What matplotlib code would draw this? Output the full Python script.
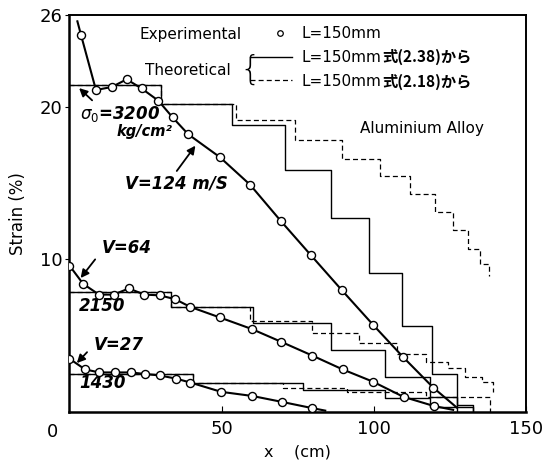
import matplotlib.pyplot as plt

plt.rcParams['font.family'] = ['DejaVu Sans', 'Noto Sans CJK JP']

# measured strain along the bar, L=150mm
x_124 = [3.8, 8.7, 13.9, 18.8, 23.7, 29.2, 33.9, 39.0, 49.4, 59.3, 69.5, 79.2, 89.4, 99.8, 109.6, 119.5]
y_124 = [24.7, 21.1, 21.3, 21.8, 21.2, 20.4, 19.3, 18.2, 16.7, 14.9, 12.5, 10.3, 8.0, 5.7, 3.6, 1.6]
x_64 = [0, 4.5, 9.7, 14.5, 19.5, 24.6, 29.6, 34.7, 39.6, 49.4, 59.8, 69.6, 79.8, 89.7, 99.6, 109.7, 119.7]
y_64 = [9.6, 8.4, 7.7, 7.7, 8.1, 7.7, 7.65, 7.4, 6.9, 6.2, 5.45, 4.6, 3.7, 2.8, 2.0, 1.0, 0.4]
x_27 = [0, 5.1, 9.8, 14.8, 20.1, 24.8, 29.7, 34.9, 39.7, 49.8, 60.0, 69.8, 79.8]
y_27 = [3.5, 2.8, 2.6, 2.6, 2.6, 2.5, 2.4, 2.2, 1.94, 1.33, 1.06, 0.67, 0.26]

# fitted curve ends (no marker)
ends_124 = [(2.6, 25.6), (127.2, 0.3)]
ends_64 = [(None, None), (126.0, 0.15)]
ends_27 = [(None, None), (84.0, 0.1)]

# theoretical staircases: edges, levels, final value
th38_124 = ([0, 30.2, 53.5, 70.8, 85.9, 98.4, 109.3, 118.9, 127.2],
            [21.4, 20.2, 18.8, 15.85, 12.7, 9.1, 5.65, 2.5], 0)
th18_124 = ([0, 30.2, 54.7, 74.1, 89.4, 102.0, 111.8, 120.0, 126.0, 131.0, 134.8, 137.9],
            [21.4, 20.2, 19.15, 17.8, 16.6, 15.5, 14.3, 13.1, 11.9, 10.7, 9.7], 8.9)
th38_64 = ([0, 33.2, 60.4, 86.0, 103.6, 118.4, 127.2, 132.6],
           [7.85, 6.9, 5.85, 4.06, 2.31, 1.0, 0.5], 0)
th18_64 = ([0, 33.2, 59.3, 79.5, 95.2, 107.5, 117.0, 124.4, 129.9, 135.4, 139.2],
           [7.85, 6.9, 6.0, 5.2, 4.56, 3.84, 3.3, 2.86, 2.31, 1.98], 1.33)
th38_27 = ([0, 40.7, 76.8, 103.6, 118.4, 132.6],
           [2.49, 1.94, 1.44, 0.9, 0.35], 0)
th18_27 = ([0, 40.7, 70.2, 91.0, 117.0, 138.1],
           [2.49, 1.94, 1.55, 1.29, 1.0], 0)


def stair(ax, spec, **kw):
    edges, levels, end = spec
    xs = list(edges) + [edges[-1]]
    ys = list(levels) + [levels[-1], end]
    ax.plot(xs, ys, drawstyle='steps-post', color='black', **kw)


def curve(ax, xs, ys, ends):
    (x0, y0), (x1, y1) = ends
    lx = ([x0] if x0 is not None else []) + xs + [x1]
    ly = ([y0] if y0 is not None else []) + ys + [y1]
    ax.plot(lx, ly, color='black', lw=1.5, zorder=3)
    ax.plot(xs, ys, 'o', ms=5.8, mfc='white', mec='black', mew=1.0, zorder=4)


fig = plt.figure(figsize=(5.47, 4.61), dpi=100)
ax = fig.add_axes([0.127, 0.106, 0.835, 0.861])

for spec in (th18_124, th18_64, th18_27):
    stair(ax, spec, lw=0.9, linestyle=(0, (4, 2.5)))
for spec in (th38_124, th38_64, th38_27):
    stair(ax, spec, lw=1.0)

curve(ax, x_124, y_124, ends_124)
curve(ax, x_64, y_64, ends_64)
curve(ax, x_27, y_27, ends_27)

ax.set_xlim(0, 150)
ax.set_ylim(0, 26)
ax.set_xticks([50, 100, 150])
ax.set_yticks([10, 20, 26])
ax.tick_params(axis='x', direction='in', length=4, labelsize=13, pad=6)
ax.tick_params(axis='y', direction='out', length=3, labelsize=13, pad=2)
for side, w in (('left', 1.8), ('bottom', 1.8), ('top', 1.4), ('right', 1.4)):
    ax.spines[side].set_linewidth(w)
ax.text(-0.037, -0.027, '0', transform=ax.transAxes, ha='center', va='top', fontsize=13)

ax.set_ylabel('Strain (%)', fontsize=12, labelpad=9)
ax.set_xlabel('x    (cm)', fontsize=11.5, labelpad=4)

# legend block
tr = ax.transAxes
ax.text(0.154, 0.951, 'Experimental', transform=tr, va='center', fontsize=11)
ax.plot([0.461], [0.955], 'o', ms=4, mfc='white', mec='black', mew=0.9, transform=tr)
ax.text(0.509, 0.953, 'L=150mm', transform=tr, va='center', fontsize=11)
ax.text(0.165, 0.860, 'Theoretical', transform=tr, va='center', fontsize=11)
ax.text(0.373, 0.862, '{', transform=tr, va='center', ha='left', fontsize=24, fontweight='light')
ax.plot([0.395, 0.487], [0.894, 0.894], color='black', lw=1.0, transform=tr)
ax.plot([0.395, 0.487], [0.836, 0.836], color='black', lw=0.9, linestyle=(0, (4, 2.5)), transform=tr)
for yy, eq in ((0.894, '式(2.38)から'), (0.833, '式(2.18)から')):
    t = ax.text(0.509, yy, 'L=150mm', transform=tr, va='center', fontsize=11)
    ax.annotate(eq, xy=(1, 0.5), xycoords=t, va='center', ha='left', fontsize=11,
                fontweight='bold', family=['Noto Sans CJK JP', 'DejaVu Sans'])
ax.text(0.636, 0.714, 'Aluminium Alloy', transform=tr, va='center', fontsize=11)

# curve labels
lab = dict(fontsize=12, fontweight='bold', style='italic', va='center')
arrow = dict(arrowstyle='-|>', color='black', lw=1.3, mutation_scale=12)
ax.annotate('', xy=(2.5, 21.35), xytext=(8.1, 20.3), arrowprops=arrow)
ax.text(3.5, 19.5, r'$\sigma_0$=3200', **lab)
ax.text(15.5, 18.35, 'kg/cm²', fontsize=10.5, fontweight='bold', style='italic', va='center')
ax.annotate('', xy=(41.9, 17.6), xytext=(34.7, 15.65), arrowprops=arrow)
ax.text(18.2, 15.0, 'V=124 m/S', **lab)
ax.annotate('', xy=(3.1, 8.64), xytext=(9.0, 10.15), arrowprops=arrow)
ax.text(10.7, 10.75, 'V=64', **lab)
ax.text(3.1, 6.94, '2150', **lab)
ax.annotate('', xy=(1.8, 3.08), xytext=(6.4, 4.06), arrowprops=arrow)
ax.text(8.0, 4.39, 'V=27', **lab)
ax.text(3.1, 1.9, '1430', **lab)

fig.savefig('out.png', dpi=100, facecolor='white')
